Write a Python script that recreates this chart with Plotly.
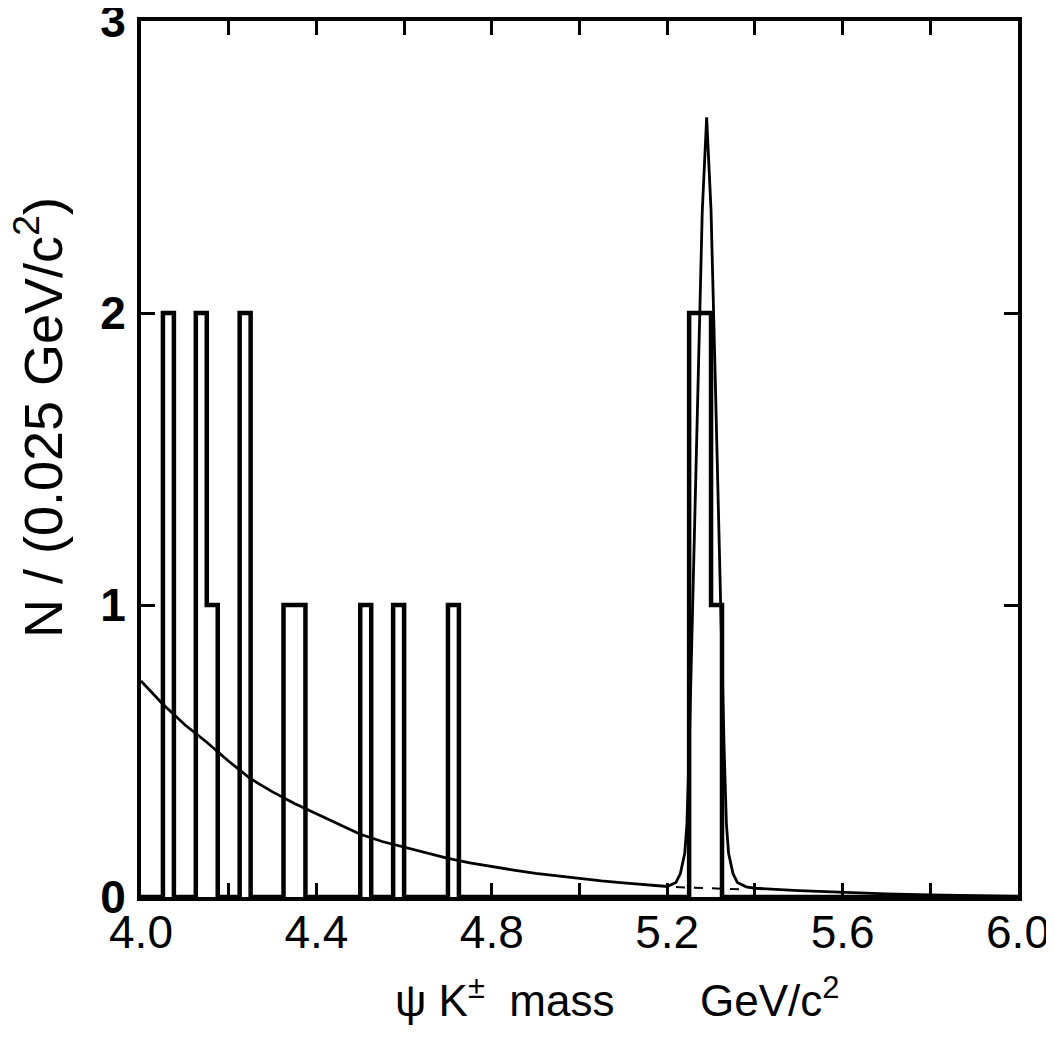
import plotly.graph_objects as go

# Histogram: nonzero bins (lower edge, GeV/c^2) and counts, bin width 0.025
bin_width = 0.025
bin_low = [4.05, 4.125, 4.15, 4.225, 4.325, 4.35, 4.50, 4.575, 4.70, 5.25, 5.275, 5.30]
bin_count = [2, 2, 1, 2, 1, 1, 1, 1, 1, 2, 2, 1]

# Fitted curve (background + signal peak)
curve_x = [4.00, 4.05, 4.10, 4.15, 4.20, 4.25, 4.30, 4.35, 4.40, 4.45, 4.50, 4.55,
           4.60, 4.65, 4.70, 4.75, 4.80, 4.85, 4.90, 4.95, 5.00, 5.05, 5.10, 5.15,
           5.20, 5.22, 5.23, 5.24, 5.245, 5.25, 5.26, 5.27, 5.28, 5.29, 5.30, 5.31,
           5.32, 5.33, 5.335, 5.34, 5.35, 5.36, 5.38, 5.40, 5.50, 5.60, 5.70, 5.80,
           5.90, 6.00]
curve_y = [0.74, 0.66, 0.59, 0.53, 0.465, 0.405, 0.36, 0.32, 0.285, 0.25, 0.215, 0.19,
           0.17, 0.15, 0.132, 0.117, 0.104, 0.092, 0.081, 0.072, 0.063, 0.055, 0.048, 0.041,
           0.036, 0.05, 0.08, 0.15, 0.25, 0.5, 1.1, 1.75, 2.35, 2.67, 2.35, 1.75,
           1.1, 0.5, 0.25, 0.15, 0.08, 0.05, 0.035, 0.03, 0.022, 0.016, 0.011, 0.007,
           0.004, 0.002]

# Background under the peak (dotted)
bkg_x = [5.22, 5.30, 5.37]
bkg_y = [0.034, 0.030, 0.026]

x_ticks = [4.0, 4.2, 4.4, 4.6, 4.8, 5.0, 5.2, 5.4, 5.6, 5.8, 6.0]
x_ticktext = ["4.0", "", "4.4", "", "4.8", "", "5.2", "", "5.6", "", "6.0"]
y_ticks = [0, 1, 2, 3]
y_ticktext = ["0", "1", "2", "3"]

# build full step outline over 4.0 - 6.0
n_bins = 80
edges = [round(4.0 + i * bin_width, 4) for i in range(n_bins + 1)]
counts = [0] * n_bins
for lo, c in zip(bin_low, bin_count):
    idx = int(round((lo - 4.0) / bin_width))
    counts[idx] = c
step_y = counts + [0]

fig = go.Figure()
fig.add_trace(go.Scatter(x=edges, y=step_y, mode="lines", line=dict(shape="hv", color="black", width=4.5),
                         showlegend=False, hoverinfo="skip"))
fig.add_trace(go.Scatter(x=curve_x, y=curve_y, mode="lines", line=dict(color="black", width=2.8),
                         showlegend=False, hoverinfo="skip"))
fig.add_trace(go.Scatter(x=bkg_x, y=bkg_y, mode="lines", line=dict(color="black", width=2, dash="dash"),
                         showlegend=False, hoverinfo="skip"))

font_fam = "Liberation Sans, Arial, sans-serif"

fig.update_layout(
    width=1046, height=1024,
    margin=dict(l=133, r=36, t=13, b=135),
    paper_bgcolor="white", plot_bgcolor="white",
    font=dict(family=font_fam, color="black"),
    xaxis=dict(range=[4.0, 6.0], tickvals=x_ticks, ticktext=x_ticktext, ticks="inside",
               ticklen=14, tickwidth=3, tickcolor="black", showline=True, linewidth=4,
               linecolor="black", mirror="ticks", showgrid=False, zeroline=False,
               automargin=False, ticklabeloverflow="allow", ticklabelstandoff=-8,
               tickfont=dict(size=46, family=font_fam)),
    yaxis=dict(range=[0, 3], tickvals=y_ticks, ticktext=y_ticktext, ticks="inside",
               ticklen=14, tickwidth=3, tickcolor="black", showline=True, linewidth=4,
               linecolor="black", mirror="ticks", showgrid=False, zeroline=False,
               automargin=False, ticklabeloverflow="allow", ticklabelstandoff=2,
               tickfont=dict(size=46, family=font_fam, weight="bold")),
    annotations=[
        dict(text="\u03c8 K<sup>\u00b1</sup>\u00a0 mass\u00a0\u00a0\u00a0\u00a0\u00a0\u00a0 GeV/c<sup>2</sup>",
             xref="paper", yref="paper", x=0.543, y=-0.115, xanchor="center", yanchor="middle",
             showarrow=False, font=dict(size=44, family=font_fam)),
        dict(text="N / (0.025 GeV/c<sup>2</sup>)",
             xref="paper", yref="paper", x=-0.116, y=0.547, xanchor="center", yanchor="middle",
             textangle=-90, showarrow=False, font=dict(size=54, family=font_fam)),
    ],
)

fig.write_html("out.html")
